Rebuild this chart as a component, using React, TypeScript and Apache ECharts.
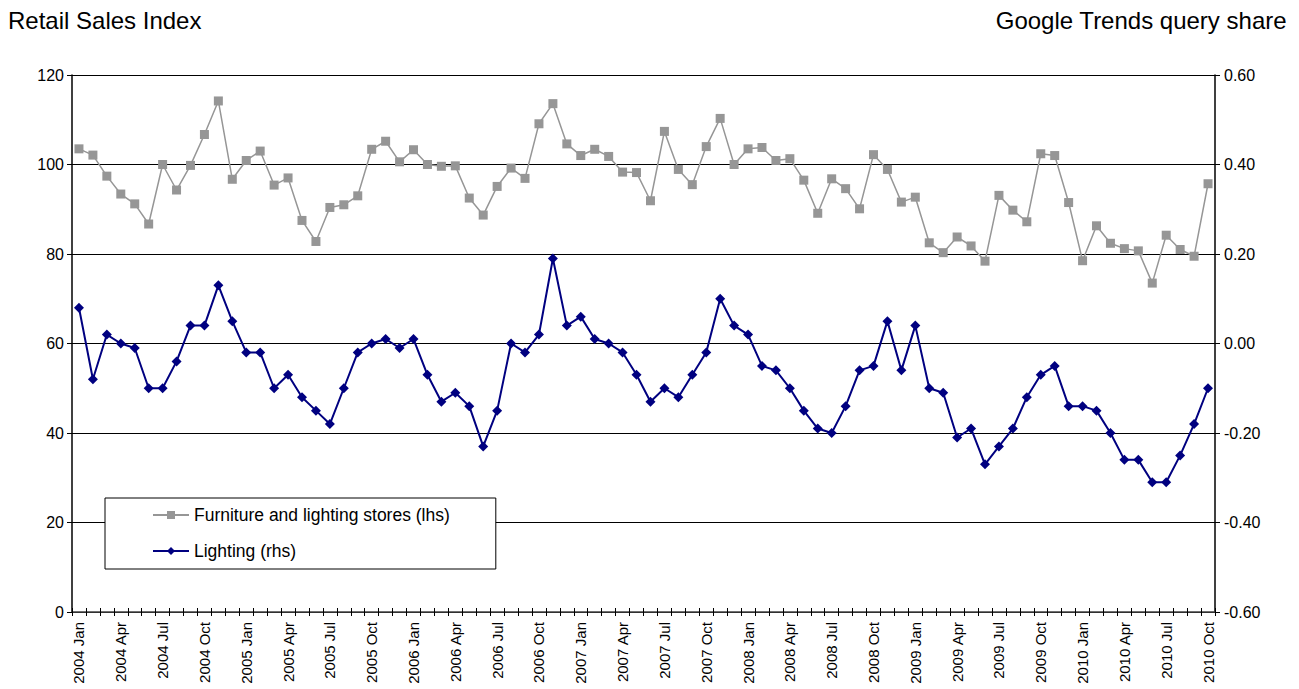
import React, { useEffect, useRef } from "react";
import * as echarts from "echarts";

const years = [2004, 2005, 2006, 2007, 2008, 2009, 2010];
const monthNames = ["Jan", "Feb", "Mar", "Apr", "May", "Jun", "Jul", "Aug", "Sep", "Oct", "Nov", "Dec"];
const lastMonthIndex = 9; // 2010 Oct

const categories: string[] = [];
years.forEach((y) => {
  monthNames.forEach((m, i) => {
    if (y === 2010 && i > lastMonthIndex) return;
    categories.push(`${y} ${m}`);
  });
});

const furnitureSeries = [
  103.5, 102.1, 97.4, 93.4, 91.2, 86.7, 100.0, 94.3, 99.8, 106.7, 114.2, 96.7,
  100.9, 103.0, 95.4, 97.0, 87.5, 82.8, 90.4, 91.0, 93.0, 103.4, 105.2, 100.6,
  103.3, 100.0, 99.6, 99.7, 92.5, 88.7, 95.1, 99.2, 96.9, 109.1, 113.6, 104.6,
  102.0, 103.4, 101.8, 98.3, 98.2, 91.9, 107.4, 98.9, 95.5, 104.0, 110.3, 100.0,
  103.5, 103.8, 100.9, 101.3, 96.5, 89.1, 96.8, 94.6, 90.1, 102.2, 98.9, 91.6,
  92.7, 82.5, 80.3, 83.8, 81.8, 78.4, 93.1, 89.8, 87.2, 102.4, 102.0, 91.5,
  78.5, 86.3, 82.4, 81.2, 80.7, 73.5, 84.2, 81.0, 79.5, 95.7,
];

const lightingSeries = [
  0.08, -0.08, 0.02, 0.0, -0.01, -0.1, -0.1, -0.04, 0.04, 0.04, 0.13, 0.05,
  -0.02, -0.02, -0.1, -0.07, -0.12, -0.15, -0.18, -0.1, -0.02, 0.0, 0.01, -0.01,
  0.01, -0.07, -0.13, -0.11, -0.14, -0.23, -0.15, 0.0, -0.02, 0.02, 0.19, 0.04,
  0.06, 0.01, 0.0, -0.02, -0.07, -0.13, -0.1, -0.12, -0.07, -0.02, 0.1, 0.04,
  0.02, -0.05, -0.06, -0.1, -0.15, -0.19, -0.2, -0.14, -0.06, -0.05, 0.05, -0.06,
  0.04, -0.1, -0.11, -0.21, -0.19, -0.27, -0.23, -0.19, -0.12, -0.07, -0.05, -0.14,
  -0.14, -0.15, -0.2, -0.26, -0.26, -0.31, -0.31, -0.25, -0.18, -0.1,
];

const leftTitle = "Retail Sales Index";
const rightTitle = "Google Trends query share";
const furnitureName = "Furniture and lighting stores (lhs)";
const lightingName = "Lighting (rhs)";

const FONT = "'Liberation Sans', Arial, sans-serif";

export default function App() {
  const ref = useRef<HTMLDivElement>(null);
  useEffect(() => {
    if (!ref.current) return;
    const chart = echarts.init(ref.current, null, { renderer: "svg" });
    chart.setOption({
      animation: false,
      backgroundColor: "#ffffff",
      textStyle: { fontFamily: FONT, color: "#000" },
      title: [
        {
          text: leftTitle,
          left: 8,
          top: 8,
          padding: 0,
          textStyle: { fontFamily: FONT, fontSize: 24, fontWeight: "normal", color: "#000" },
        },
        {
          text: rightTitle,
          right: 12,
          top: 8,
          padding: 0,
          textStyle: { fontFamily: FONT, fontSize: 24, fontWeight: "normal", color: "#000" },
        },
      ],
      legend: {
        orient: "vertical",
        left: 105,
        top: 498,
        padding: [8, 46, 9, 47],
        itemWidth: 36,
        itemHeight: 10,
        itemGap: 18,
        backgroundColor: "#ffffff",
        borderColor: "#000000",
        borderWidth: 1,
        borderRadius: 0,
        textStyle: { fontFamily: FONT, fontSize: 17.5, color: "#000" },
        data: [furnitureName, lightingName],
      },
      grid: { left: 72, right: 84, top: 75, bottom: 77, containLabel: false },
      xAxis: [
        {
          type: "category",
          data: categories,
          boundaryGap: true,
          position: "bottom",
          axisLine: { onZero: false, lineStyle: { color: "#404040", width: 1.5 } },
          axisTick: { show: true, interval: 0, inside: false, length: 4, lineStyle: { color: "#000" } },
          axisLabel: {
            interval: 2,
            rotate: 90,
            margin: 10,
            fontFamily: FONT,
            fontSize: 15,
            color: "#000",
          },
          splitLine: { show: false },
        },
        {
          type: "category",
          data: categories,
          boundaryGap: true,
          position: "bottom",
          offset: 0,
          axisLine: { show: false, onZero: false },
          axisTick: { show: true, interval: 0, inside: true, length: 4, lineStyle: { color: "#000" } },
          axisLabel: { show: false },
          splitLine: { show: false },
        },
      ],
      yAxis: [
        {
          type: "value",
          min: 0,
          max: 120,
          interval: 20,
          position: "left",
          axisLine: { show: true, lineStyle: { color: "#000", width: 1.5 } },
          axisTick: { show: true, length: 5, lineStyle: { color: "#000" } },
          axisLabel: { margin: 8, fontFamily: FONT, fontSize: 16, color: "#000" },
          splitLine: { show: true, lineStyle: { color: "#000", width: 1 } },
        },
        {
          type: "value",
          min: -0.6,
          max: 0.6,
          interval: 0.2,
          position: "right",
          axisLine: { show: true, lineStyle: { color: "#000", width: 1.5 } },
          axisTick: { show: true, length: 5, lineStyle: { color: "#000" } },
          axisLabel: {
            margin: 9,
            fontFamily: FONT,
            fontSize: 16,
            color: "#000",
            formatter: (v: number) => v.toFixed(2),
          },
          splitLine: { show: false },
        },
      ],
      series: [
        {
          name: furnitureName,
          type: "line",
          xAxisIndex: 0,
          yAxisIndex: 0,
          data: furnitureSeries,
          symbol: "rect",
          symbolSize: 9,
          showAllSymbol: true,
          lineStyle: { color: "#969696", width: 1.5 },
          itemStyle: { color: "#969696" },
        },
        {
          name: lightingName,
          type: "line",
          xAxisIndex: 0,
          yAxisIndex: 1,
          data: lightingSeries,
          symbol: "diamond",
          symbolSize: 10,
          showAllSymbol: true,
          lineStyle: { color: "#000080", width: 2 },
          itemStyle: { color: "#000080" },
        },
      ],
    });
    return () => chart.dispose();
  }, []);
  return <div ref={ref} style={{ width: 1299, height: 689, position: "absolute", left: 0, top: 0 }} />;
}
